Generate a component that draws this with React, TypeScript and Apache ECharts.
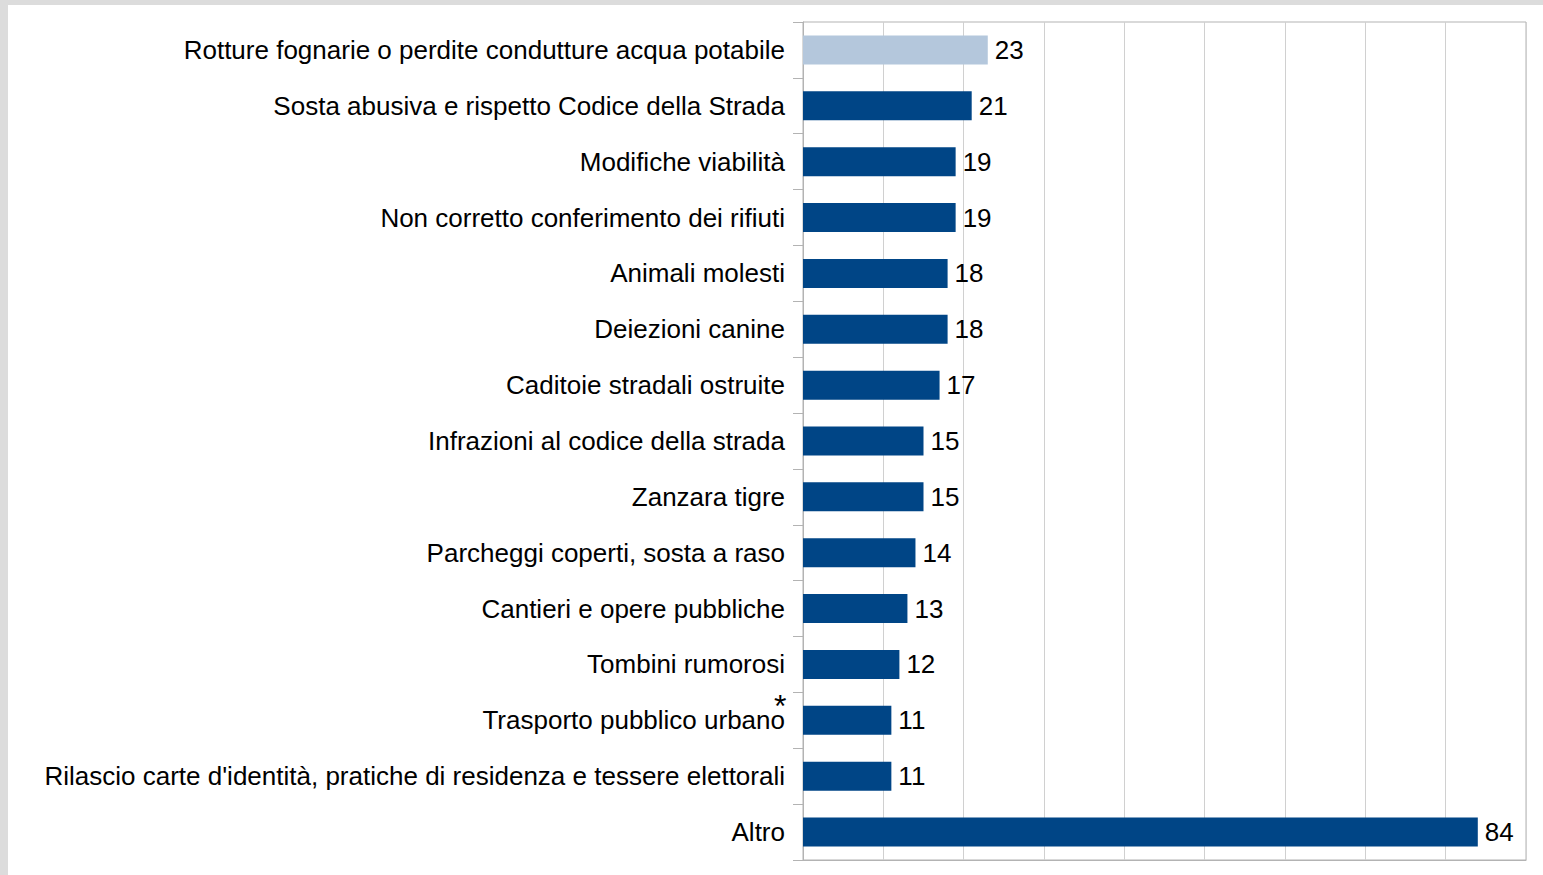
import React, { useEffect, useRef } from "react";
import * as echarts from "echarts";

const categories = [
  "Rotture fognarie o perdite condutture acqua potabile",
  "Sosta abusiva e rispetto Codice della Strada",
  "Modifiche viabilità",
  "Non corretto conferimento dei rifiuti",
  "Animali molesti",
  "Deiezioni canine",
  "Caditoie stradali ostruite",
  "Infrazioni al codice della strada",
  "Zanzara tigre",
  "Parcheggi coperti, sosta a raso",
  "Cantieri e opere pubbliche",
  "Tombini rumorosi",
  "Trasporto pubblico urbano",
  "Rilascio carte d'identità, pratiche di residenza e tessere elettorali",
  "Altro",
];
const values = [23, 21, 19, 19, 18, 18, 17, 15, 15, 14, 13, 12, 11, 11, 84];
const highlighted = [true, false, false, false, false, false, false, false, false, false, false, false, false, false, false];
const footnoteMark = "*";

export default function App() {
  const ref = useRef<HTMLDivElement>(null);
  useEffect(() => {
    if (!ref.current) return;
    const chart = echarts.init(ref.current, null, { renderer: "svg" });
    const font = "'Liberation Sans', Arial, sans-serif";
    chart.setOption({
      animation: false,
      grid: {
        left: 803,
        right: 17,
        top: 22,
        bottom: 15,
        show: true,
        borderColor: "#b3b3b3",
        borderWidth: 1,
        backgroundColor: "transparent",
      },
      xAxis: {
        type: "value",
        min: 0,
        max: 90,
        interval: 10,
        axisLabel: { show: false },
        axisTick: { show: false },
        axisLine: { show: true, lineStyle: { color: "#b3b3b3" } },
        splitLine: { show: true, lineStyle: { color: "#d0d0d0", width: 1 } },
      },
      yAxis: {
        type: "category",
        data: categories,
        inverse: true,
        axisLine: { show: true, lineStyle: { color: "#b3b3b3" } },
        axisTick: { show: true, length: 10, lineStyle: { color: "#b3b3b3" } },
        axisLabel: {
          margin: 18,
          color: "#000",
          fontSize: 26,
          fontFamily: font,
        },
      },
      series: [
        {
          type: "bar",
          data: values.map((v, i) => ({
            value: v,
            itemStyle: { color: highlighted[i] ? "#b4c7dc" : "#004586" },
          })),
          barWidth: 29,
          label: {
            show: true,
            position: "right",
            distance: 7,
            color: "#000",
            fontSize: 26,
            fontFamily: font,
          },
        },
      ],
      graphic: [
        {
          type: "text",
          left: 774,
          top: 690,
          style: { text: footnoteMark, fontSize: 32, lineHeight: 10, fontFamily: font, fill: "#000" },
        },
      ],
    });
    return () => chart.dispose();
  }, []);
  return (
    <div style={{ position: "fixed", left: 0, top: 0, width: 1543, height: 875, background: "#dcdcdc" }}>
      <div style={{ position: "absolute", left: 8, top: 5, width: 1535, height: 870, background: "#fff" }} />
      <div ref={ref} style={{ position: "absolute", left: 0, top: 0, width: 1543, height: 875 }} />
    </div>
  );
}
